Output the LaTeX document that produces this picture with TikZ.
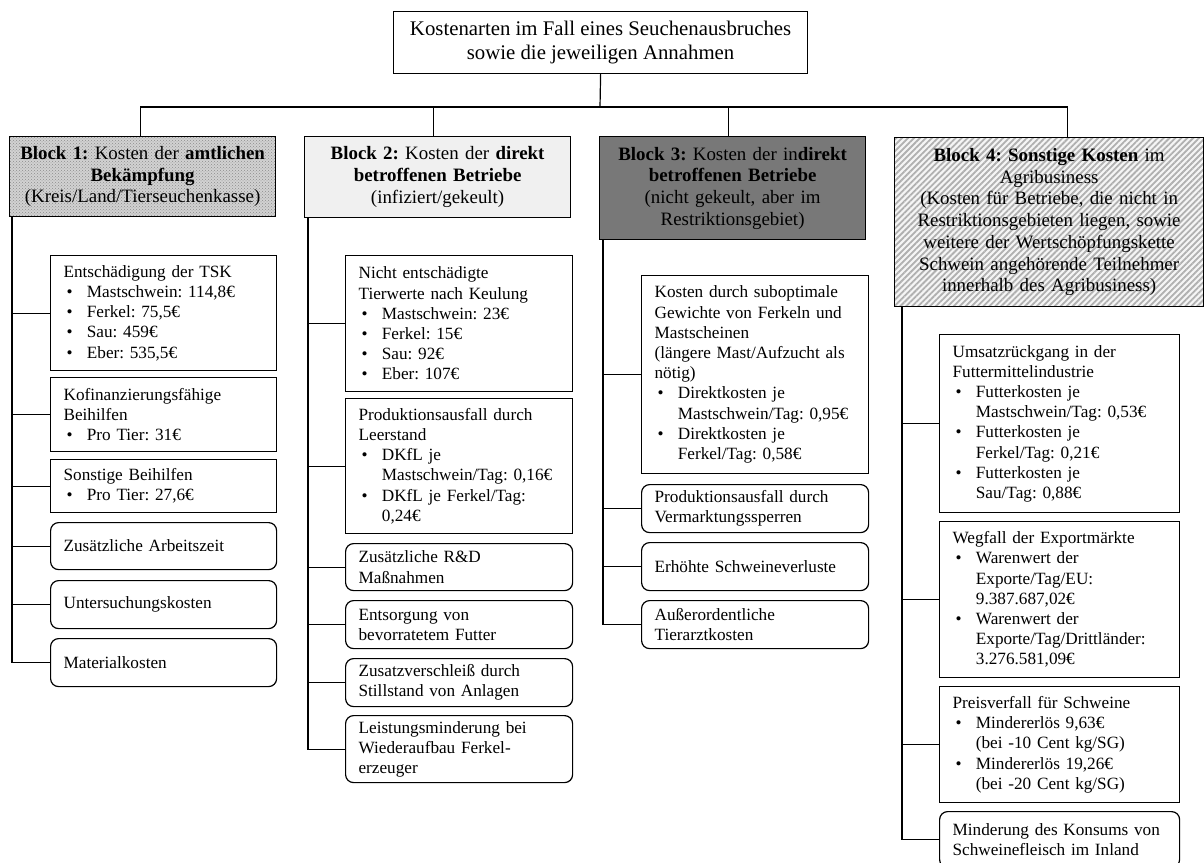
\documentclass[tikz,border=0pt]{standalone}
\usepackage{fontspec}
\setmainfont{Liberation Serif}
\frenchspacing
\usetikzlibrary{patterns,patterns.meta}
\newcommand\ftop{\fontsize{20.8}{23.3}\selectfont}
\newcommand\fhead{\fontsize{18.9}{21.7}\selectfont}
\newcommand\fcont{\fontsize{17.2}{20.2}\selectfont}
\newcommand\bitem{\hspace*{3pt}\makebox[20.3pt][l]{\textbullet}}
\newcommand\bind{\hspace*{23.3pt}}
\tikzset{
  ln/.style={line width=1.2pt},
  topbox/.style={draw,ln,anchor=north west,align=center,font=\ftop,inner sep=2pt},
  hbox/.style={draw,ln,anchor=north west,align=center,font=\fhead,inner xsep=4pt,inner ysep=2pt},
  cbox/.style={draw,ln,anchor=north west,align=left,font=\fcont,inner xsep=13pt,inner ysep=2pt},
  rbox/.style={cbox,rounded corners=8pt},
  conn/.style={ln}
}
\begin{document}
\begin{tikzpicture}[x=1pt,y=-1pt]
\useasboundingbox (0,0) rectangle (1204,862);
% top
\node[topbox,minimum width=414pt,minimum height=62pt] (top) at (393,11)
  {Kostenarten im Fall eines Seuchenausbruches\\sowie die jeweiligen Annahmen};
% headers
\node[hbox,text width=258pt,minimum height=80pt,preaction={fill=gray!35},
  pattern=crosshatch dots,pattern color=gray!90] (h1) at (9,136)
  {\textbf{Block 1:} Kosten der \textbf{amtlichen}\\\textbf{Bekämpfung}\\(Kreis/Land/Tierseuchenkasse)};
\node[hbox,text width=258pt,minimum height=81pt,fill=gray!12] (h2) at (304,136)
  {\textbf{Block 2:} Kosten der \textbf{direkt}\\\textbf{betroffenen Betriebe}\\(infiziert/gekeult)};
\node[hbox,text width=258pt,minimum height=103pt,fill=black!53] (h3) at (599,136)
  {\textbf{Block 3:} Kosten der in\textbf{direkt}\\\textbf{betroffenen Betriebe}\\(nicht gekeult, aber im\\Restriktionsgebiet)};
\node[hbox,text width=301pt,minimum height=169pt,preaction={fill=gray!8},
  pattern={Lines[angle=45,distance=4.2pt,line width=1.8pt]},pattern color=gray!62,line width=1.2pt] (h4) at (894,137)
  {\textbf{Block 4: Sonstige Kosten} im\\Agribusiness\\(Kosten für Betriebe, die nicht in\\Restriktionsgebieten liegen, sowie\\weitere der Wertschöpfungskette\\Schwein angehörende Teilnehmer\\innerhalb des Agribusiness)};
% top connectors
\coordinate (bus) at (600,107);
\draw[conn] (top.south) -- (bus);
\draw[conn] ([xshift=-2pt]h1.north) -- ([xshift=-2pt]h1.north |- bus) -- ([xshift=18.5pt]h4.north |- bus) -- ([xshift=18.5pt]h4.north);
\draw[conn] ([xshift=-4pt]h2.north) -- ([xshift=-4pt]h2.north |- bus);
\draw[conn] ([xshift=-4pt]h3.north) -- ([xshift=-4pt]h3.north |- bus);
% column 1
\node[cbox,text width=200pt,minimum height=115pt] (c11) at (50,255)
  {Entschädigung der TSK\\ \bitem Mastschwein: 114,8€\\ \bitem Ferkel: 75,5€\\ \bitem Sau: 459€\\ \bitem Eber: 535,5€};
\node[cbox,text width=200pt,minimum height=74pt] (c12) at (50,377)
  {Kofinanzierungsfähige\\Beihilfen\\ \bitem Pro Tier: 31€};
\node[cbox,text width=200pt,minimum height=53pt] (c13) at (50,459)
  {Sonstige Beihilfen\\ \bitem Pro Tier: 27,6€};
\node[rbox,text width=200pt,minimum height=47pt] (c14) at (50,522) {Zusätzliche Arbeitszeit};
\node[rbox,text width=200pt,minimum height=48pt] (c15) at (50,580) {Untersuchungskosten};
\node[rbox,text width=200pt,minimum height=48pt] (c16) at (50,638) {Materialkosten};
\foreach \n in {c11,c12,c13,c14,c15,c16}
  \draw[conn] ([xshift=3pt]h1.south west) |- (\n.west);
% column 2
\node[cbox,text width=201pt,minimum height=136pt] (c21) at (345,255)
  {Nicht entschädigte\\Tierwerte nach Keulung\\ \bitem Mastschwein: 23€\\ \bitem Ferkel: 15€\\ \bitem Sau: 92€\\ \bitem Eber: 107€};
\node[cbox,text width=201pt,minimum height=135pt] (c22) at (345,398)
  {Produktionsausfall durch\\Leerstand\\ \bitem DKfL je\\ \bind Mastschwein/Tag: 0,16€\\ \bitem DKfL je Ferkel/Tag:\\ \bind 0,24€};
\node[rbox,text width=201pt,minimum height=47pt] (c23) at (345,543) {Zusätzliche R\&D\\Maßnahmen};
\node[rbox,text width=201pt,minimum height=48pt] (c24) at (345,600) {Entsorgung von\\bevorratetem Futter};
\node[rbox,text width=201pt,minimum height=48pt] (c25) at (345,658) {Zusatzverschleiß durch\\Stillstand von Anlagen};
\node[rbox,text width=201pt,minimum height=67pt] (c26) at (345,715) {Leistungsminderung bei\\Wiederaufbau Ferkel-\\erzeuger};
\foreach \n in {c21,c22,c23,c24,c25,c26}
  \draw[conn] ([xshift=4pt]h2.south west) |- (\n.west);
% column 3
\node[cbox,text width=201pt,minimum height=198pt] (c31) at (641,275)
  {Kosten durch suboptimale\\Gewichte von Ferkeln und\\Mastscheinen\\(längere Mast/Aufzucht als\\nötig)\\ \bitem Direktkosten je\\ \bind Mastschwein/Tag: 0,95€\\ \bitem Direktkosten je\\ \bind Ferkel/Tag: 0,58€};
\node[rbox,text width=201pt,minimum height=48pt] (c32) at (641,484) {Produktionsausfall durch\\Vermarktungssperren};
\node[rbox,text width=201pt,minimum height=48pt] (c33) at (641,542) {Erhöhte Schweineverluste};
\node[rbox,text width=201pt,minimum height=48pt] (c34) at (641,600) {Außerordentliche\\Tierarztkosten};
\foreach \n in {c31,c32,c33,c34}
  \draw[conn] ([xshift=4pt]h3.south west) |- (\n.west);
% column 4
\node[cbox,text width=214pt,minimum height=178pt] (c41) at (939,334)
  {Umsatzrückgang in der\\Futtermittelindustrie\\ \bitem Futterkosten je\\ \bind Mastschwein/Tag: 0,53€\\ \bitem Futterkosten je\\ \bind Ferkel/Tag: 0,21€\\ \bitem Futterkosten je\\ \bind Sau/Tag: 0,88€};
\node[cbox,text width=214pt,minimum height=156pt] (c42) at (939,521)
  {Wegfall der Exportmärkte\\ \bitem Warenwert der\\ \bind Exporte/Tag/EU:\\ \bind 9.387.687,02€\\ \bitem Warenwert der\\ \bind Exporte/Tag/Drittländer:\\ \bind 3.276.581,09€};
\node[cbox,text width=214pt,minimum height=116pt] (c43) at (939,686)
  {Preisverfall für Schweine\\ \bitem Mindererlös 9,63€\\ \bind (bei -10 Cent kg/SG)\\ \bitem Mindererlös 19,26€\\ \bind (bei -20 Cent kg/SG)};
\node[rbox,text width=214pt,minimum height=56pt] (c44) at (939,811) {Minderung des Konsums von\\Schweinefleisch im Inland};
\foreach \n in {c41,c42,c43,c44}
  \draw[conn] ([xshift=8pt]h4.south west) |- (\n.west);
\end{tikzpicture}
\end{document}
